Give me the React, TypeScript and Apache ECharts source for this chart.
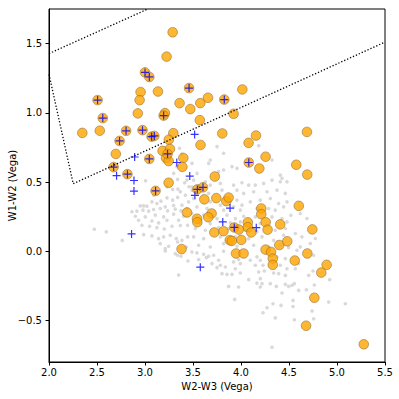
import React, { useEffect, useRef } from 'react';
import * as echarts from 'echarts';

const xTicks = [2.0, 2.5, 3.0, 3.5, 4.0, 4.5, 5.0, 5.5];
const yTicks = [-0.5, 0.0, 0.5, 1.0, 1.5];

const wedgeTop = [[2.0, 1.428], [3.03, 1.75]];
const wedgeSteep = [[2.0, 1.278], [2.252, 0.488]];
const wedgeBottom = [[2.252, 0.488], [5.5, 1.511]];

const orangeSources = [
  [3.288, 1.582], [3.225, 1.406], [3.0, 1.292], [3.045, 1.259], [2.954, 1.15], [2.944, 1.092],
  [3.135, 1.154], [3.36, 1.07], [3.459, 1.179], [2.506, 1.092], [2.56, 0.962], [2.925, 0.996],
  [3.208, 0.998], [3.194, 0.98], [2.347, 0.855], [2.529, 0.871], [2.803, 0.87], [2.974, 0.875],
  [3.069, 0.828], [3.097, 0.833], [3.295, 0.853], [3.248, 0.806], [2.735, 0.797], [2.696, 0.703],
  [2.673, 0.608], [2.817, 0.557], [3.045, 0.667], [3.11, 0.436], [3.246, 0.495], [3.183, 0.725],
  [3.219, 0.674], [3.246, 0.652], [3.26, 0.739], [3.235, 0.703], [3.399, 0.674], [3.389, 0.609],
  [3.545, 0.447], [3.604, 0.462], [3.578, 0.768], [3.571, 0.947], [3.576, 1.07], [3.472, 1.027],
  [4.014, 1.169], [3.826, 1.096], [3.656, 1.109], [3.923, 0.993], [3.805, 0.851], [4.156, 0.836],
  [4.079, 0.783], [4.687, 0.862], [4.256, 0.683], [4.081, 0.641], [4.191, 0.598], [4.576, 0.625],
  [4.69, 0.554], [3.727, 0.54], [3.618, 0.375], [3.743, 0.384], [3.847, 0.362], [3.871, 0.388],
  [4.211, 0.309], [4.211, 0.268], [4.602, 0.328], [4.257, 0.21], [4.409, 0.194], [4.071, 0.209],
  [4.071, 0.174], [4.277, 0.156], [4.743, 0.158], [3.694, 0.273], [3.659, 0.246], [3.542, 0.235],
  [3.545, 0.21], [3.722, 0.136], [3.818, 0.145], [3.93, 0.172], [3.977, 0.157], [4.107, 0.136],
  [3.883, 0.08], [3.904, 0.075], [4.003, 0.082], [3.948, -0.016], [4.027, -0.016], [4.399, 0.045],
  [4.482, 0.072], [4.256, 0.012], [4.313, -0.005], [4.331, -0.053], [4.331, -0.098], [4.56, -0.067],
  [4.691, -0.016], [4.892, -0.098], [4.836, -0.154], [4.764, -0.336], [4.678, -0.538], [5.279, -0.672],
  [3.438, 0.28], [3.381, 0.016],
];

const blueSources = [
  [3.0, 1.292], [3.045, 1.259], [3.459, 1.179], [2.506, 1.092], [2.56, 0.962], [3.194, 0.98],
  [2.803, 0.87], [2.974, 0.875], [3.069, 0.828], [3.097, 0.833], [2.735, 0.797], [2.673, 0.608],
  [2.817, 0.557], [3.045, 0.667], [3.11, 0.436], [3.235, 0.703], [3.545, 0.447], [3.604, 0.462],
  [3.826, 1.096], [4.081, 0.641], [3.93, 0.172],
  [2.704, 0.546], [2.892, 0.681], [2.885, 0.511], [2.885, 0.435], [3.331, 0.641], [3.466, 0.543],
  [3.517, 0.844], [3.52, 0.404], [3.886, 0.312], [3.81, 0.212], [4.159, 0.17], [3.576, -0.115],
  [2.86, 0.125],
];

const graySources = [
  [3.36, 0.744], [3.006, 0.509], [3.34, 0.519], [3.288, 0.447], [3.343, 0.449], [3.413, 0.495],
  [3.458, 0.466], [3.09, 0.405], [3.166, 0.362], [3.229, 0.386], [3.288, 0.369], [3.34, 0.389],
  [3.42, 0.405], [2.951, 0.328], [2.986, 0.328], [3.02, 0.326], [3.072, 0.357], [3.124, 0.345],
  [3.211, 0.321], [3.298, 0.331], [3.385, 0.333], [3.454, 0.357], [2.864, 0.285], [2.916, 0.29],
  [2.979, 0.297], [3.038, 0.29], [3.09, 0.302], [3.159, 0.309], [3.236, 0.292], [3.315, 0.304],
  [3.374, 0.292], [3.437, 0.309], [2.899, 0.253], [3.003, 0.248], [3.107, 0.261], [3.194, 0.248],
  [3.298, 0.268], [3.402, 0.253], [2.933, 0.224], [3.072, 0.219], [3.142, 0.205], [3.229, 0.224],
  [3.35, 0.224], [2.968, 0.188], [3.048, 0.181], [3.124, 0.171], [3.201, 0.161], [3.281, 0.181],
  [3.368, 0.186], [3.444, 0.188], [2.472, 0.159], [2.597, 0.14], [2.986, 0.12], [3.072, 0.111],
  [3.142, 0.091], [3.194, 0.104], [3.263, 0.116], [3.326, 0.091], [3.385, 0.079], [3.444, 0.104],
  [2.763, 0.079], [3.159, 0.055], [3.246, 0.036], [3.34, 0.067], [3.43, 0.031], [3.211, 0.019],
  [3.385, 0.703], [3.333, 0.611], [3.299, 0.563], [3.49, 0.635], [3.437, 0.515], [3.542, 0.563],
  [3.229, 0.466], [3.368, 0.43], [3.49, 0.466],
  [3.75, 0.756], [4.184, 0.763], [3.819, 0.708], [3.68, 0.659], [3.663, 0.635], [4.323, 0.659],
  [3.906, 0.611], [3.958, 0.599], [3.819, 0.587], [3.767, 0.575], [4.41, 0.502], [4.427, 0.527],
  [4.01, 0.495], [4.08, 0.478], [3.923, 0.478], [4.41, 0.55],
  [3.507, 0.514], [3.628, 0.502], [3.68, 0.478], [3.785, 0.49], [4.149, 0.478], [4.236, 0.49],
  [4.323, 0.514], [4.479, 0.502], [3.489, 0.442], [3.663, 0.418], [3.802, 0.442], [3.958, 0.442],
  [4.028, 0.418], [4.132, 0.43], [4.271, 0.43], [4.375, 0.442], [4.462, 0.418], [3.507, 0.381],
  [3.68, 0.357], [3.785, 0.333], [3.958, 0.369], [4.01, 0.333], [4.097, 0.357], [4.201, 0.369],
  [4.305, 0.381], [4.392, 0.345], [4.479, 0.357], [3.541, 0.321], [3.646, 0.309], [3.819, 0.297],
  [3.923, 0.321], [3.993, 0.297], [4.166, 0.309], [4.288, 0.309], [4.357, 0.297], [4.444, 0.321],
  [3.489, 0.273], [3.611, 0.261], [3.75, 0.236], [3.854, 0.261], [3.941, 0.236], [4.028, 0.253],
  [4.149, 0.248], [4.323, 0.248], [4.427, 0.236], [3.576, 0.2], [3.68, 0.2], [3.889, 0.205],
  [3.993, 0.212], [4.201, 0.2], [4.479, 0.212], [3.524, 0.164], [3.628, 0.152], [3.767, 0.171],
  [3.871, 0.164], [4.045, 0.152], [4.166, 0.14], [4.357, 0.152], [4.462, 0.164], [3.507, 0.104],
  [3.611, 0.091], [3.785, 0.104], [3.941, 0.104], [4.08, 0.091], [4.219, 0.104], [4.34, 0.079],
  [4.444, 0.116], [3.559, 0.043], [3.68, 0.031], [3.819, 0.055], [3.958, 0.036], [4.132, 0.043],
  [4.288, 0.031], [4.41, 0.043], [4.496, 0.026],
  [3.489, -0.005], [3.541, -0.012], [3.611, -0.022], [3.663, -0.036], [3.715, -0.029], [3.819, 0.0],
  [3.559, -0.06], [3.639, -0.046], [3.767, -0.065], [3.698, -0.089], [3.785, -0.101], [3.837, -0.114],
  [3.75, -0.118], [3.923, -0.077], [3.993, -0.089], [3.975, -0.06], [4.097, -0.065], [4.166, -0.041],
  [4.201, -0.065], [4.149, -0.101], [4.229, -0.101], [4.375, -0.041], [4.462, -0.053], [4.41, -0.101],
  [4.479, -0.126], [3.802, -0.162], [3.854, -0.167], [3.906, -0.167], [3.993, -0.157], [3.941, -0.126],
  [4.08, -0.205], [4.184, -0.15], [4.243, -0.143], [4.34, -0.157], [4.392, -0.162], [4.462, -0.174],
  [4.201, -0.198], [4.166, -0.23], [4.201, -0.258], [4.219, -0.234], [4.305, -0.234], [4.368, -0.254],
  [4.462, -0.239], [4.496, -0.254], [3.871, -0.254], [3.975, -0.258], [4.427, -0.302], [3.934, -0.348],
  [4.333, -0.379], [4.417, -0.391], [4.271, -0.408], [4.229, -0.444], [4.357, -0.481], [4.323, -0.693],
  [4.583, 0.007], [4.757, -0.029], [4.601, -0.089], [4.566, -0.126], [4.705, -0.174], [4.75, -0.143],
  [4.924, -0.205], [4.556, -0.234], [4.531, -0.246], [4.601, -0.283], [4.681, -0.278], [4.764, -0.244],
  [4.913, -0.367], [5.087, -0.379], [4.542, -0.355], [4.542, -0.399], [4.74, -0.432], [4.556, -0.495],
  [4.757, -0.488],
  [3.211, 0.002], [3.34, -0.029], [3.374, -0.036], [3.315, -0.017], [3.447, -0.07], [3.35, -0.172],
  [4.618, 0.273], [4.687, 0.237], [4.566, 0.128], [4.635, 0.104], [4.722, 0.056], [4.774, 0.092],
  [4.618, 0.032], [4.52, 0.26],
];

const FONT = 'DejaVu Sans';
const fmt = (v: number) => {
  const s = Math.abs(v).toFixed(1);
  return v < 0 ? '\u2212' + s : s;
};

export default function App() {
  const ref = useRef<HTMLDivElement>(null);
  useEffect(() => {
    const chart = echarts.init(ref.current!, null, { renderer: 'svg' });
    const dotted = { color: '#000', width: 1.3, type: [1.3, 1.9], cap: 'butt' };
    chart.setOption({
      animation: false,
      backgroundColor: '#fff',
      textStyle: { fontFamily: FONT },
      grid: {
        left: 49, right: 14, top: 9, bottom: 37,
        containLabel: false, outerBoundsMode: 'none',
        show: true, borderColor: '#000', borderWidth: 1, backgroundColor: 'transparent',
      },
      xAxis: {
        type: 'value', min: 2, max: 5.5, interval: 0.5,
        name: 'W2-W3 (Vega)', nameLocation: 'middle', nameGap: 19, nameMoveOverlap: false,
        nameTextStyle: { fontFamily: FONT, fontSize: 10, color: '#000' },
        axisLine: { show: true, onZero: false, lineStyle: { color: '#000', width: 1 } },
        axisTick: { show: true, inside: false, length: 3.5, lineStyle: { color: '#000' }, customValues: xTicks },
        axisLabel: { color: '#000', fontFamily: FONT, fontSize: 10, margin: 5, formatter: (v: number) => fmt(v), customValues: xTicks },
        splitLine: { show: false },
      },
      yAxis: {
        type: 'value', min: -0.8, max: 1.75,
        name: 'W1-W2 (Vega)', nameLocation: 'middle', nameGap: 32, nameMoveOverlap: false,
        nameTextStyle: { fontFamily: FONT, fontSize: 10, color: '#000' },
        axisLine: { show: true, onZero: false, lineStyle: { color: '#000', width: 1 } },
        axisTick: { show: true, inside: false, length: 3.5, lineStyle: { color: '#000' }, customValues: yTicks },
        axisLabel: {
          color: '#000', fontFamily: FONT, fontSize: 10, margin: 7,
          formatter: (v: number) => fmt(v), customValues: yTicks,
        },
        splitLine: { show: false },
      },
      series: [
        {
          type: 'scatter', data: graySources, symbol: 'circle', symbolSize: 3.6, z: 1,
          itemStyle: { color: '#cfcfcf', borderWidth: 0 },
          silent: true,
        },
        {
          type: 'scatter', data: orangeSources, symbol: 'circle', symbolSize: 9.6, z: 2,
          itemStyle: { color: '#ffa500', borderColor: '#8c6a2a', borderWidth: 0.7 },
          silent: true,
        },
        {
          type: 'scatter', data: blueSources, symbol: 'path://M5,0L5,10M0,5L10,5', symbolSize: 8, z: 3,
          itemStyle: { color: 'none', borderColor: '#0000ff', borderWidth: 1.2 },
          silent: true,
        },
        { type: 'line', data: wedgeTop, symbol: 'none', lineStyle: dotted, z: 4, silent: true },
        { type: 'line', data: wedgeSteep, symbol: 'none', lineStyle: dotted, z: 4, silent: true },
        { type: 'line', data: wedgeBottom, symbol: 'none', lineStyle: dotted, z: 4, silent: true },
      ],
    });
    return () => chart.dispose();
  }, []);
  return <div ref={ref} style={{ position: 'fixed', left: 0, top: 0, width: 399, height: 399 }} />;
}
